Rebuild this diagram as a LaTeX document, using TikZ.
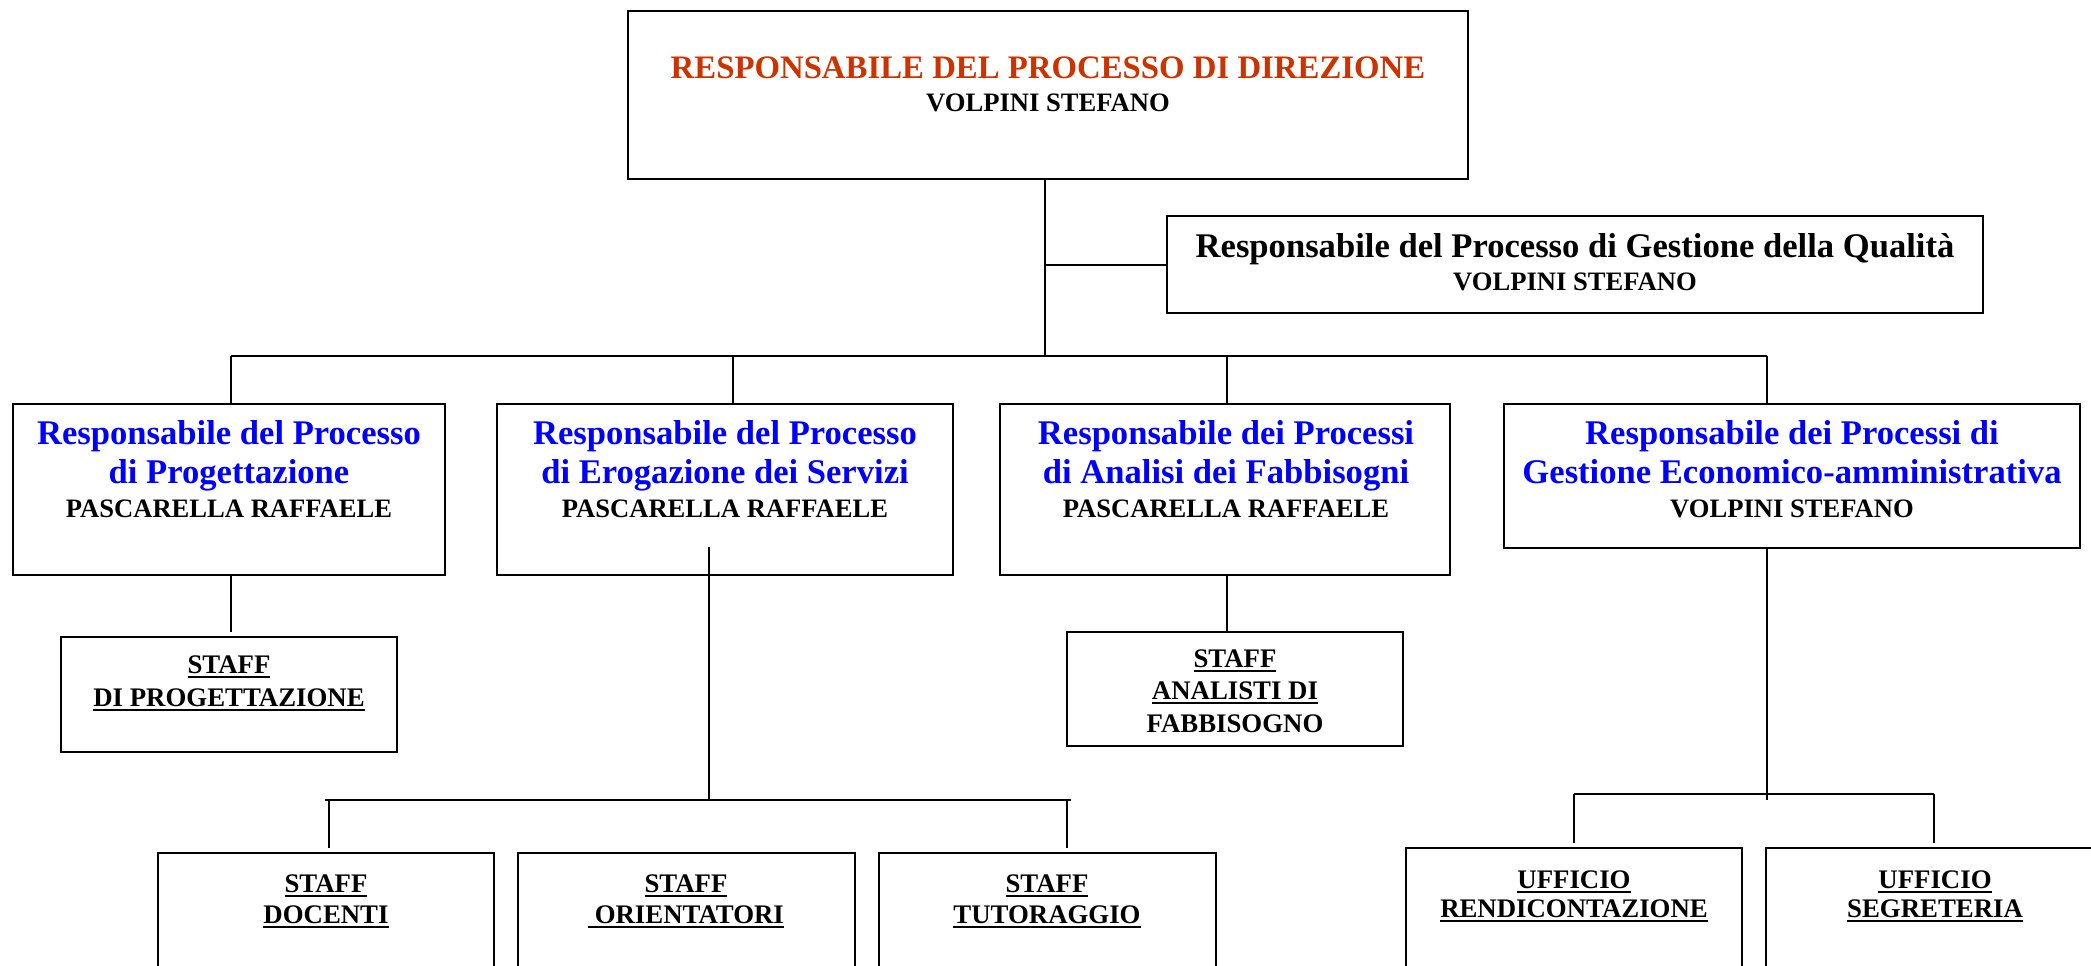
\documentclass[tikz,border=0pt]{standalone}
\usepackage{fontspec}
\setmainfont{Liberation Serif}
\usetikzlibrary{fit}
\definecolor{titlered}{RGB}{204,51,0}
\definecolor{headblue}{RGB}{0,0,255}
\newcommand{\myul}[1]{\setbox0\hbox{#1}\rlap{\rule[-2.3pt]{\wd0}{0.9pt}}\box0}
\begin{document}
\begin{tikzpicture}[x=0.5pt,y=-0.5pt,
  box/.style={draw, line width=1.3pt, inner sep=0pt},
  conn/.style={line width=1pt},
  tfont/.style={anchor=base, inner sep=0pt, text=titlered, font=\fontsize{16.4pt}{19pt}\selectfont\bfseries},
  hfont/.style={anchor=base, inner sep=0pt, text=headblue, font=\fontsize{17.3pt}{20pt}\selectfont\bfseries},
  qfont/.style={anchor=base, inner sep=0pt, text=black, font=\fontsize{17.3pt}{20pt}\selectfont\bfseries},
  nfont/.style={anchor=base, inner sep=0pt, text=black, font=\fontsize{13.3pt}{16pt}\selectfont\bfseries},
  sfont/.style={anchor=base, inner sep=0pt, text=black, font=\fontsize{13.4pt}{16pt}\selectfont\bfseries}]
\useasboundingbox (0,0) rectangle (2091,965);
\clip (0,0) rectangle (2091,965);

% boxes
\node[box, fit={(628,11) (1468,179)}] (dir) {};
\node[box, fit={(1167,216) (1983,313)}] (qual) {};
\node[box, fit={(13,404) (445,575)}] (p1) {};
\node[box, fit={(497,404) (953,575)}] (p2) {};
\node[box, fit={(1000,404) (1450,575)}] (p3) {};
\node[box, fit={(1504,404) (2080,548)}] (p4) {};
\node[box, fit={(61,637) (397,752)}] (sprog) {};
\node[box, fit={(1067,632) (1403,746)}] (sanal) {};
\node[box, fit={(158,853) (494,1010)}] (sdoc) {};
\node[box, fit={(518,853) (855,1010)}] (sori) {};
\node[box, fit={(879,853) (1216,1010)}] (stut) {};
\node[box, fit={(1406,848) (1742,1010)}] (urend) {};
\node[box, fit={(1766,848) (2104,1010)}] (useg) {};

% texts
\node[tfont] (dirT1) at (1048,78) {RESPONSABILE DEL PROCESSO DI DIREZIONE};
\node[nfont] (dirT2) at (1048,111) {VOLPINI STEFANO};
\node[qfont] (qualT1) at (1575,257) {Responsabile del Processo di Gestione della Qualità};
\node[nfont] (qualT2) at (1575,290) {VOLPINI STEFANO};

\node[hfont] (p1T1) at (229,444) {Responsabile del Processo};
\node[hfont] (p1T2) at (229,483) {di Progettazione};
\node[nfont] (p1T3) at (229,517) {PASCARELLA RAFFAELE};

\node[hfont] (p2T1) at (725,444) {Responsabile del Processo};
\node[hfont] (p2T2) at (725,483) {di Erogazione dei Servizi};
\node[nfont] (p2T3) at (725,517) {PASCARELLA RAFFAELE};

\node[hfont] (p3T1) at (1226,444) {Responsabile dei Processi};
\node[hfont] (p3T2) at (1226,483) {di Analisi dei Fabbisogni};
\node[nfont] (p3T3) at (1226,517) {PASCARELLA RAFFAELE};

\node[hfont] (p4T1) at (1792,444) {Responsabile dei Processi di};
\node[hfont] (p4T2) at (1792,483) {Gestione Economico-amministrativa};
\node[nfont] (p4T3) at (1792,517) {VOLPINI STEFANO};

\node[sfont] (sprogT1) at (229,673) {\myul{STAFF}};
\node[sfont] (sprogT2) at (229,706) {\myul{DI PROGETTAZIONE}};

\node[sfont] (sanalT1) at (1235,667) {\myul{STAFF}};
\node[sfont] (sanalT2) at (1235,699) {\myul{ANALISTI DI}};
\node[sfont] (sanalT3) at (1235,732) {FABBISOGNO};

\node[sfont] (sdocT1) at (326,892) {\myul{STAFF}};
\node[sfont] (sdocT2) at (326,923) {\myul{DOCENTI}};
\node[sfont] (soriT1) at (686,892) {\myul{STAFF}};
\node[sfont] (soriT2) at (686,923) {\myul{\ ORIENTATORI}};
\node[sfont] (stutT1) at (1047,892) {\myul{STAFF}};
\node[sfont] (stutT2) at (1047,923) {\myul{TUTORAGGIO}};

\node[sfont] (urendT1) at (1574,888) {\myul{UFFICIO}};
\node[sfont] (urendT2) at (1574,917) {\myul{RENDICONTAZIONE}};
\node[sfont] (usegT1) at (1935,888) {\myul{UFFICIO}};
\node[sfont] (usegT2) at (1935,917) {\myul{SEGRETERIA}};

% connector points
\coordinate (j0) at (1045,356);
\coordinate (b1) at (231,356);
\coordinate (b2) at (733,356);
\coordinate (b3) at (1227,356);
\coordinate (b4) at (1767,356);
\coordinate (s1) at (231,632);
\coordinate (s3) at (1227,632);
\coordinate (e0) at (709,547);
\coordinate (e1) at (709,800);
\coordinate (eL) at (325,800);
\coordinate (eR) at (1071,800);
\coordinate (d1) at (329,800);
\coordinate (d1e) at (329,848);
\coordinate (d3) at (1067,800);
\coordinate (d3e) at (1067,848);
\coordinate (g1) at (1767,800);
\coordinate (gL) at (1574,794);
\coordinate (gR) at (1934,794);
\coordinate (gLe) at (1574,843);
\coordinate (gRe) at (1934,843);

% connectors
\draw[conn] (j0 |- dir.south) -- (j0);
\draw[conn] (j0 |- qual.west) -- (qual.west);
\draw[conn] (b1) -- (b4);
\draw[conn] (b1) -- (b1 |- p1.north);
\draw[conn] (b2) -- (b2 |- p2.north);
\draw[conn] (b3) -- (b3 |- p3.north);
\draw[conn] (b4) -- (b4 |- p4.north);
\draw[conn] (s1 |- p1.south) -- (s1);
\draw[conn] (s3 |- p3.south) -- (s3 |- sanal.north);
\draw[conn] (e0) -- (e1);
\draw[conn] (eL) -- (eR);
\draw[conn] (d1) -- (d1e);
\draw[conn] (d3) -- (d3e);
\draw[conn] (g1 |- p4.south) -- (g1);
\draw[conn] (gL) -- (gR);
\draw[conn] (gL) -- (gLe);
\draw[conn] (gR) -- (gRe);
\end{tikzpicture}
\end{document}
